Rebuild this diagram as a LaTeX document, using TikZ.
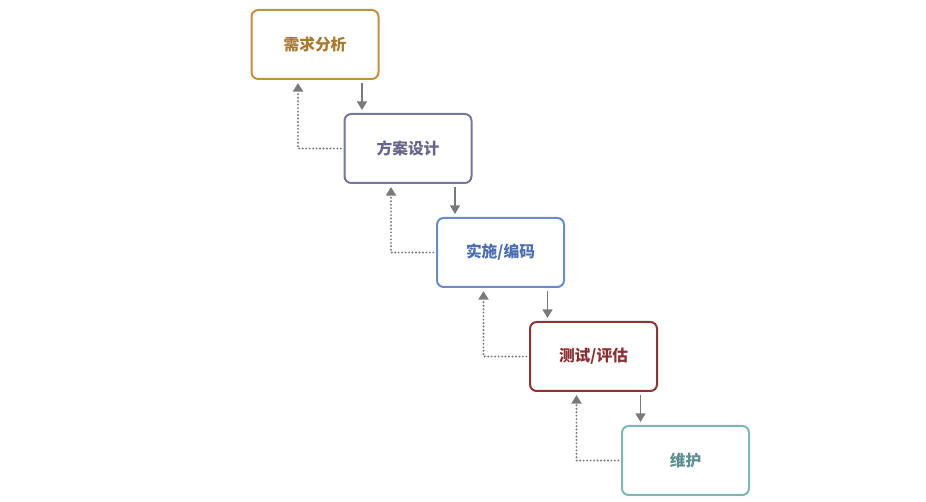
\documentclass[tikz,border=0pt]{standalone}
\usepackage{fontspec}
\newfontfamily\cjk{Noto Sans CJK SC}
\usetikzlibrary{arrows.meta}
\definecolor{cA}{HTML}{C0913F}
\definecolor{cB}{HTML}{76779A}
\definecolor{cC}{HTML}{6A8AC8}
\definecolor{cD}{HTML}{8E3434}
\definecolor{cE}{HTML}{7AB8B4}
\definecolor{tA}{HTML}{A87A30}
\definecolor{tB}{HTML}{66678A}
\definecolor{tC}{HTML}{4A6EB0}
\definecolor{tD}{HTML}{8A3030}
\definecolor{tE}{HTML}{5E8E90}
\definecolor{arr}{HTML}{7A7A7A}
\begin{document}
\begin{tikzpicture}[x=0.75pt,y=-0.75pt,
  stagebox/.style={draw=#1, line width=1.5pt, rounded corners=5pt, fill=white,
    minimum width=127*0.75pt, minimum height=69*0.75pt, inner sep=0pt,
    font=\cjk\bfseries\fontsize{11.8pt}{13pt}\selectfont},
  fwd/.style={draw=arr, line width=1.2pt, -{Triangle[length=6.5pt,width=7.5pt]}},
  back/.style={draw=arr, line width=1.6pt, line cap=round, dash pattern=on 0pt off 2.6pt,
    -{Triangle[length=6.5pt,width=7.5pt,line cap=butt]}}]
\useasboundingbox (0,0) rectangle (926,502);
\node[stagebox=cA, text=tA] (n1) at (315,44.5) {需求分析};
\node[stagebox=cB, text=tB] (n2) at (408,148.5) {方案设计};
\node[stagebox=cC, text=tC] (n3) at (500.5,252.5) {实施/编码};
\node[stagebox=cD, text=tD] (n4) at (593.5,356.5) {测试/评估};
\node[stagebox=cE, text=tE] (n5) at (685.5,460.5) {维护};
\foreach \a/\b in {n1/n2,n2/n3,n3/n4,n4/n5}{
  \draw[fwd] ([xshift=47*0.75pt,yshift=-3*0.75pt]\a.south) -- ([xshift=47*0.75pt,yshift=3*0.75pt]\a.south |- \b.north);
  \draw[back] ([xshift=-2pt]\b.west) -| ([xshift=-17*0.75pt,yshift=-3*0.75pt]\a.south);
}
\end{tikzpicture}
\end{document}
